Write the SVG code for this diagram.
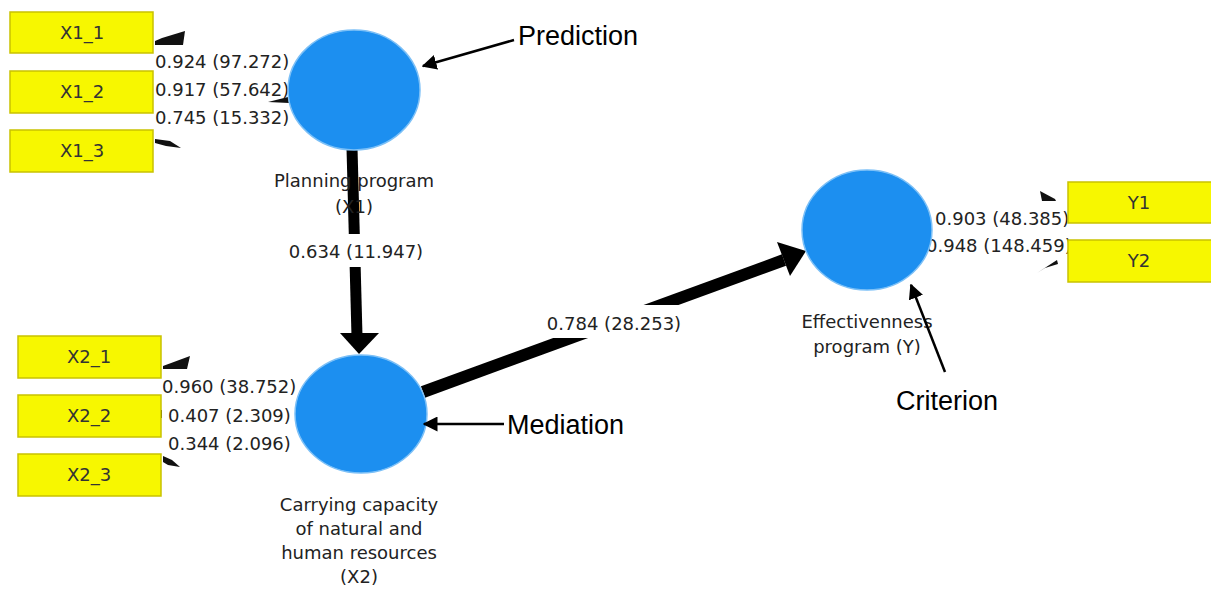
<svg xmlns="http://www.w3.org/2000/svg" width="1211" height="596" viewBox="0 0 1211 596">
<defs>
<style>
.ind rect{fill:#f7f700;stroke:#c9c200;stroke-width:1.5}
.ind text{font-family:"DejaVu Sans",sans-serif;font-size:18px;fill:#333;text-anchor:middle}
.lat ellipse{fill:#1c8ff0;stroke:#7cc0f7;stroke-width:1.5}
.lbl{font-family:"DejaVu Sans",sans-serif;font-size:18px;fill:#222}
.mid{text-anchor:middle}
.ann{font-family:"Liberation Sans",Arial,sans-serif;font-size:27px;fill:#000}
.wedge{fill:#111}
.thin{stroke:#000;stroke-width:2.5;fill:none;marker-end:url(#ah)}
</style>
<marker id="ah" viewBox="0 0 10 10" refX="9" refY="5" markerWidth="6" markerHeight="6" markerUnits="strokeWidth" orient="auto">
<path d="M0,0 L10,5 L0,10 Z" fill="#000"/>
</marker>
</defs>
<rect width="1211" height="596" fill="#fff"/>

<g id="connectors">
<line x1="352" y1="148" x2="357" y2="336" stroke="#000" stroke-width="11"/>
<polygon points="340,333 379,333 359,354" fill="#000"/>
<line x1="423" y1="392" x2="784" y2="260" stroke="#000" stroke-width="12"/>
<polygon points="806,251 777,242 790,276" fill="#000"/>
<rect x="290" y="234" width="132" height="33" fill="#fff"/>
<rect x="547" y="305" width="135" height="33" fill="#fff"/>
<text class="lbl mid" x="356" y="258">0.634 (11.947)</text>
<text class="lbl mid" x="614" y="330">0.784 (28.253)</text>
<polygon class="wedge" points="155,41 162,38 185,31 183,45 155,45"/>
<polygon class="wedge" points="268,102 288,97 289,103"/>
<polygon class="wedge" points="155,139 170,141 181,148 166,146 155,143"/>
<polygon class="wedge" points="163,366 190,356 187,369 163,369"/>
<rect x="160" y="410" width="2" height="8" fill="#111"/>
<polygon class="wedge" points="163,456 172,460 180,467 168,465 163,462"/>
<polygon class="wedge" points="1040,191 1055,199 1056,201 1042,201"/>
<polygon class="wedge" points="1037,273 1057,260 1058,264 1045,268"/>
<text class="lbl" x="155" y="68">0.924 (97.272)</text>
<text class="lbl" x="155" y="96">0.917 (57.642)</text>
<text class="lbl" x="155" y="124">0.745 (15.332)</text>
<text class="lbl" x="162" y="393">0.960 (38.752)</text>
<text class="lbl" x="168" y="422">0.407 (2.309)</text>
<text class="lbl" x="168" y="450">0.344 (2.096)</text>
<text class="lbl" x="935" y="225">0.903 (48.385)</text>
<text class="lbl" x="926" y="252">0.948 (148.459)</text>
</g>

<g id="X1_1" class="ind"><rect x="10" y="12" width="143" height="41"/><text x="82" y="39">X1_1</text></g>
<g id="X1_2" class="ind"><rect x="10" y="71" width="143" height="42"/><text x="82" y="98">X1_2</text></g>
<g id="X1_3" class="ind"><rect x="10" y="130" width="143" height="42"/><text x="82" y="157">X1_3</text></g>
<g id="X2_1" class="ind"><rect x="18" y="336" width="143" height="42"/><text x="89" y="363">X2_1</text></g>
<g id="X2_2" class="ind"><rect x="18" y="395" width="143" height="42"/><text x="89" y="422">X2_2</text></g>
<g id="X2_3" class="ind"><rect x="18" y="454" width="143" height="42"/><text x="89" y="481">X2_3</text></g>
<g id="Y1" class="ind"><rect x="1068" y="182" width="145" height="41"/><text x="1139" y="209">Y1</text></g>
<g id="Y2" class="ind"><rect x="1068" y="240" width="145" height="42"/><text x="1139" y="267">Y2</text></g>

<g id="X1" class="lat">
<ellipse cx="354" cy="90" rx="66" ry="60"/>
<text class="lbl mid" x="354" y="187">Planning program</text>
<text class="lbl mid" x="354" y="213">(X1)</text>
</g>
<g id="X2" class="lat">
<ellipse cx="361" cy="414" rx="66" ry="59"/>
<text class="lbl mid" x="359" y="511">Carrying capacity</text>
<text class="lbl mid" x="359" y="535">of natural and</text>
<text class="lbl mid" x="359" y="559">human resources</text>
<text class="lbl mid" x="359" y="583">(X2)</text>
</g>
<g id="Y" class="lat">
<ellipse cx="867" cy="230" rx="65" ry="60"/>
<text class="lbl mid" x="867" y="328">Effectivenness</text>
<text class="lbl mid" x="867" y="353">program (Y)</text>
</g>

<g id="annotations">
<line class="thin" x1="514" y1="40" x2="423" y2="66"/>
<text class="ann" x="518" y="45">Prediction</text>
<line class="thin" x1="504" y1="424" x2="424" y2="424"/>
<text class="ann" x="507" y="434">Mediation</text>
<line class="thin" x1="945" y1="372" x2="911" y2="285"/>
<text class="ann" x="896" y="410">Criterion</text>
</g>
</svg>
